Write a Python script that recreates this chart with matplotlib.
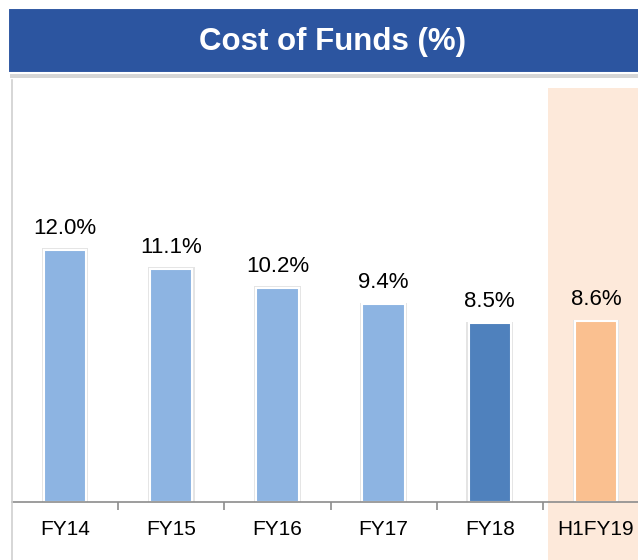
import matplotlib
matplotlib.use('Agg')
import matplotlib.pyplot as plt
from matplotlib.patches import Rectangle
from matplotlib.lines import Line2D
import numpy as np

plt.rcParams['font.family'] = ['Liberation Sans', 'DejaVu Sans']

# data
categories = ['FY14', 'FY15', 'FY16', 'FY17', 'FY18', 'H1FY19']
cost_of_funds = [12.0, 11.1, 10.2, 9.4, 8.5, 8.6]
bar_colors = ['#8DB4E2', '#8DB4E2', '#8DB4E2', '#8DB4E2', '#4F81BD', '#FAC090']

W, H = 638, 560
fig = plt.figure(figsize=(W / 100, H / 100), dpi=100)
fig.patch.set_facecolor('white')

def fx(px):
    return px / W

def fy(py):
    # pixel from top -> figure fraction
    return 1 - py / H

# title banner with shadow
fig.patches.append(Rectangle((fx(10), fy(78)), fx(630), 70 / H, transform=fig.transFigure,
                             facecolor='#D6D6D6', edgecolor='none', zorder=1))
fig.patches.append(Rectangle((fx(8), fy(73)), fx(632), 65 / H, transform=fig.transFigure,
                             facecolor='#2C55A0', edgecolor='white', linewidth=1.5, zorder=2))
fig.text(fx(332), fy(42), 'Cost of Funds (%)', color='white', fontsize=22.5,
         fontweight='bold', ha='center', va='center', zorder=3)

# left border line
fig.lines.append(Line2D([fx(11.5), fx(11.5)], [fy(80), 0], transform=fig.transFigure,
                        color='#D0D0D0', linewidth=1.2))

ax = fig.add_axes([fx(12), fy(502), fx(637), (502 - 88) / H])
ax.set_facecolor('none')

x = np.arange(len(categories))
ax.set_xlim(-0.5, len(categories) - 0.5)
ax.set_ylim(0, 19.7)

# highlight for the half-year period
ax.axvspan(4.55, 5.6, ymin=-0.2, ymax=1.0, facecolor='#FDE9DA', edgecolor='none',
           clip_on=False, zorder=0)

# soft shadow behind bars
ax.bar(x, [v + 0.08 for v in cost_of_funds], width=0.44, color='#E4E4E4', zorder=1)
bars = ax.bar(x, cost_of_funds, width=0.40, color=bar_colors, edgecolor='white',
              linewidth=1.5, zorder=2)

for xi, v in zip(x, cost_of_funds):
    ax.annotate(f'{v:.1f}%', (xi, v), xytext=(0, 8), textcoords='offset points',
                ha='center', va='bottom', fontsize=16, color='black')

for s in ['top', 'right', 'left']:
    ax.spines[s].set_visible(False)
ax.spines['bottom'].set_color('#8C8C8C')
ax.spines['bottom'].set_linewidth(1.2)

ax.set_yticks([])
ax.set_xticks(x)
ax.set_xticklabels(categories, fontsize=15)
ax.tick_params(axis='x', which='major', length=0, pad=13)
ax.set_xticks(np.arange(len(categories)) + 0.5, minor=True)
ax.tick_params(axis='x', which='minor', length=6, width=1.2, color='#8C8C8C')

fig.savefig('out.png', dpi=100)
